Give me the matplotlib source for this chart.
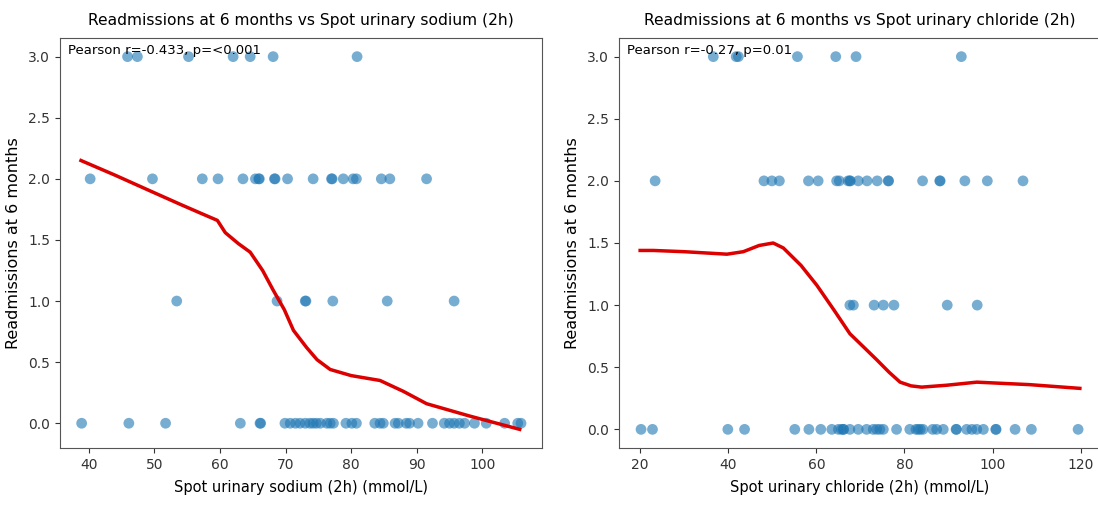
import matplotlib
matplotlib.use("Agg")
import matplotlib.pyplot as plt

# sodium panel
na_x3 = [45.9, 47.4, 55.2, 62.0, 64.6, 68.1, 80.9]
na_x2 = [40.2, 49.7, 57.3, 59.7, 63.5, 65.4, 65.9, 66.0, 68.3, 68.4, 70.3, 74.2,
         77.0, 77.1, 78.8, 80.3, 80.8, 84.6, 85.9, 91.5]
na_x1 = [53.4, 68.7, 73.0, 73.1, 77.2, 85.5, 95.7]
na_x0 = [38.9, 46.1, 51.7, 63.1, 66.1, 66.2, 69.9, 70.7, 71.5, 72.2, 73.0, 73.7,
         74.2, 74.7, 75.3, 76.3, 76.8, 77.3, 79.2, 80.1, 80.8, 83.6, 84.4, 84.9,
         86.7, 87.2, 88.4, 88.9, 90.2, 92.4, 94.2, 95.0, 95.7, 96.5, 97.3, 98.8,
         100.6, 103.4, 105.4, 105.9]
na_fit_x = [38.8, 44.0, 49.4, 54.0, 57.0, 59.6, 60.8, 62.8, 64.6, 66.5, 68.1, 69.8,
            71.2, 73.2, 74.8, 76.8, 80.0, 84.4, 88.0, 91.5, 98.0, 105.7]
na_fit_y = [2.15, 2.03, 1.90, 1.79, 1.72, 1.66, 1.56, 1.47, 1.40, 1.25, 1.09, 0.93,
            0.76, 0.62, 0.52, 0.44, 0.39, 0.35, 0.26, 0.16, 0.06, -0.05]

# chloride panel
cl_x3 = [36.6, 41.8, 42.3, 55.7, 64.4, 69.0, 92.9]
cl_x2 = [23.4, 48.1, 49.9, 51.6, 58.2, 60.4, 64.6, 65.2, 67.2, 67.6, 67.7, 69.5,
         71.5, 73.8, 76.3, 76.4, 84.1, 88.0, 88.1, 93.7, 98.8, 106.9]
cl_x1 = [67.6, 68.4, 73.1, 75.2, 77.6, 89.7, 96.5]
cl_x0 = [20.2, 22.8, 39.9, 43.7, 55.1, 58.3, 61.0, 63.5, 65.0, 65.7, 66.1, 66.2,
         67.6, 69.5, 71.4, 72.9, 73.7, 74.4, 75.2, 78.2, 81.2, 82.6, 83.1, 83.6,
         84.2, 86.4, 87.3, 88.8, 91.7, 91.8, 94.1, 95.3, 96.4, 97.9, 100.7, 100.8,
         105.1, 108.8, 119.4]
cl_fit_x = [20.0, 23.0, 30.0, 39.7, 43.4, 47.0, 50.2, 52.5, 56.5, 60.1, 64.0, 67.6,
            70.8, 73.7, 76.5, 79.0, 81.5, 83.9, 89.5, 96.4, 108.4, 119.8]
cl_fit_y = [1.44, 1.44, 1.43, 1.41, 1.43, 1.48, 1.50, 1.46, 1.32, 1.16, 0.96, 0.77,
            0.66, 0.56, 0.46, 0.38, 0.35, 0.34, 0.355, 0.38, 0.36, 0.33]

panels = [
    ("sodium", [na_x0, na_x1, na_x2, na_x3], na_fit_x, na_fit_y,
     "Pearson r=-0.433, p=<0.001", (35.6, 109.1), (-0.2025, 3.1525), range(40, 101, 10)),
    ("chloride", [cl_x0, cl_x1, cl_x2, cl_x3], cl_fit_x, cl_fit_y,
     "Pearson r=-0.27, p=0.01", (15.2, 124.6), (-0.15, 3.15), range(20, 121, 20)),
]
boxes = [[60/1098, 60/508, 482/1098, 410/508], [619/1098, 60/508, 482/1098, 410/508]]

fig = plt.figure(figsize=(10.98, 5.08), dpi=100)
for (name, rows, fx, fy, stat, xl, yl, ticks), box in zip(panels, boxes):
    ax = fig.add_axes(box)
    for level, xs in enumerate(rows):
        ax.scatter(xs, [level] * len(xs), s=60, color="#1f77b4", alpha=0.6, edgecolors="none")
    ax.plot(fx, fy, color="#dd0000", lw=2.5)
    ax.set_xlim(*xl)
    ax.set_ylim(*yl)
    ax.set_xticks(list(ticks))
    ax.set_yticks([0, 0.5, 1.0, 1.5, 2.0, 2.5, 3.0])
    ax.tick_params(labelsize=10, colors="#333333")
    for sp in ax.spines.values():
        sp.set_color("#555555")
    ax.set_title(f"Readmissions at 6 months vs Spot urinary {name} (2h)", fontsize=11.2, pad=9)
    ax.set_xlabel(f"Spot urinary {name} (2h) (mmol/L)", fontsize=10.5, labelpad=6)
    ax.set_ylabel("Readmissions at 6 months", fontsize=11.5, labelpad=5)
    ax.text(0.017, 0.985, stat, transform=ax.transAxes, ha="left", va="top", fontsize=9.5)

fig.savefig("out.png", dpi=100)
